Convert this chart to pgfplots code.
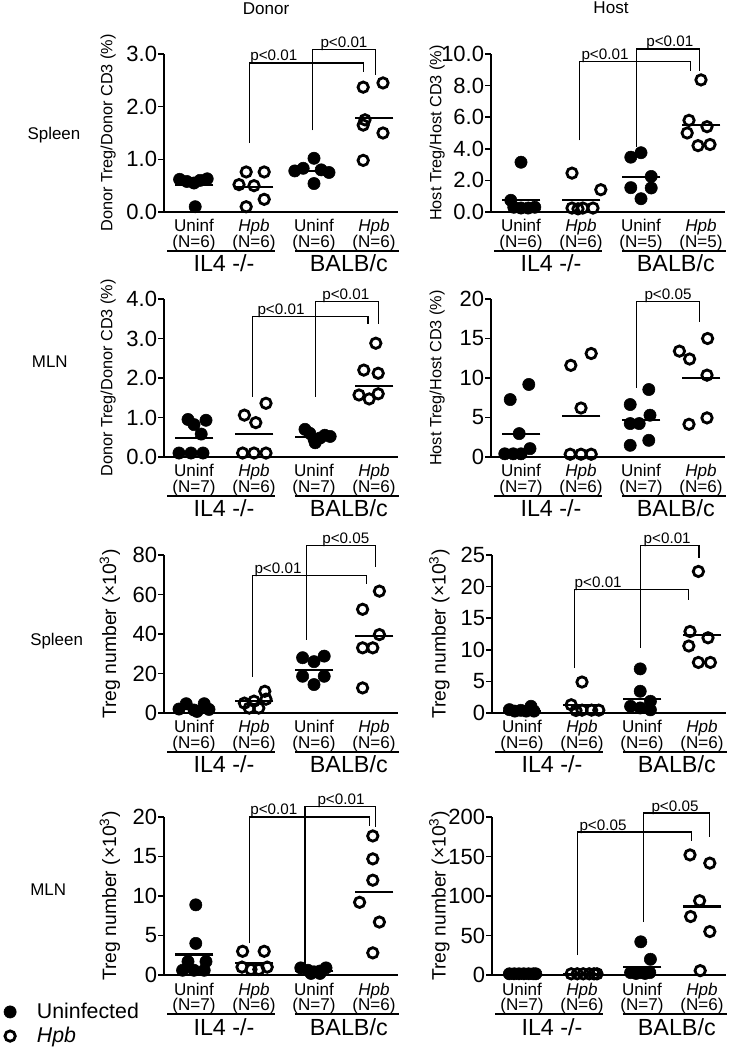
\documentclass[border=0pt]{standalone}
\usepackage{fontspec}
\setmainfont{Liberation Sans}
\usepackage{pgfplots}
\pgfplotsset{compat=1.18}

\newcommand\fsz[1]{\fontsize{#1}{#1}\selectfont}

\pgfplotsset{
 panel/.style={scale only axis, width=175.5pt, height=118.5pt, xmin=0.5, xmax=4.4, ymin=0,
   clip=false, axis x line=bottom, axis y line=left,
   axis line style={-, line width=1.3pt, black}, xtick=\empty,
   tick align=outside, major tick length=4.5pt, ytick style={line width=1.2pt, black},
   yticklabel style={font=\fsz{16.5}, inner sep=0.5pt},
   /pgf/number format/assume math mode=true,
   every axis y label/.style={rotate=90, anchor=center, inner sep=0pt},
   anchor=south west},
 dec/.style={yticklabel style={/pgf/number format/fixed, /pgf/number format/fixed zerofill, /pgf/number format/precision=1}},
 filled/.style={only marks, mark=*, mark size=4.6pt, mark options={fill=black, draw=black, line width=0.4pt}},
 open/.style={only marks, mark=o, mark size=3.9pt, mark options={draw=black, line width=2.1pt}},
 mean/.style={only marks, mark=-, mark size=14.5pt, mark options={line width=1.6pt}},
}
\tikzset{cat/.style={font=\fsz{12.8}, anchor=base, inner sep=0pt},
         grp/.style={font=\fsz{17.5}, anchor=base, inner sep=0pt}}

\newcommand\cats[4]{%
 \node[cat] at ([yshift=-15pt]axis cs:1,0) {Uninf};
 \node[cat] at ([yshift=-15pt]axis cs:2,0) {\textit{Hpb}};
 \node[cat] at ([yshift=-15pt]axis cs:3,0) {Uninf};
 \node[cat] at ([yshift=-15pt]axis cs:4,0) {\textit{Hpb}};
 \node[cat] at ([yshift=-27pt]axis cs:1,0) {(N=#1)};
 \node[cat] at ([yshift=-27pt]axis cs:2,0) {(N=#2)};
 \node[cat] at ([yshift=-27pt]axis cs:3,0) {(N=#3)};
 \node[cat] at ([yshift=-27pt]axis cs:4,0) {(N=#4)};
 \draw[line width=1.1pt] ([yshift=-29.2pt]axis cs:0.55,0) -- ([yshift=-29.2pt]axis cs:2.35,0);
 \draw[line width=1.1pt] ([yshift=-29.2pt]axis cs:2.68,0) -- ([yshift=-29.2pt]axis cs:4.42,0);
 \node[grp] at ([yshift=-45pt]axis cs:1.5,0) {IL4 -/-};
 \node[grp] at ([yshift=-45pt]axis cs:3.58,0) {BALB/c};
}

\newcommand\brk[7]{%
 \draw[line width=0.9pt] (axis cs:#1,#2) |- (axis cs:#4,#3) -- (axis cs:#4,#5);
 \node[font=\fsz{11.4}, anchor=base, inner sep=0pt] at ([yshift=1.5pt]axis cs:#7,#3) {#6};
}

\begin{document}
\begin{tikzpicture}
\useasboundingbox (0,0) rectangle (549pt,787.5pt);

% ---------- Panel 1: Donor, Spleen, %
\begin{axis}[panel, dec, at={(123pt,628.5pt)}, ymax=3, ytick={0,1,2,3},
  ylabel={Donor Treg/Donor CD3 (\%)}, ylabel style={font=\fsz{12.2}, at={(axis description cs:-0.239,0.5)}}]
\addplot[filled] coordinates {(0.76,0.62) (0.88,0.58) (1.0,0.55) (1.1,0.6) (1.22,0.63) (1.02,0.1)};
\addplot[open] coordinates {(1.87,0.76) (2.17,0.76) (1.75,0.52) (2.0,0.50) (1.87,0.1) (2.17,0.24)};
\addplot[filled] coordinates {(3.0,1.02) (2.82,0.83) (3.12,0.8) (2.68,0.78) (3.25,0.75) (3.0,0.54)};
\addplot[open] coordinates {(3.82,2.37) (4.15,2.45) (3.82,1.65) (3.85,1.75) (4.15,1.5) (3.82,0.98)};
\addplot[mean] coordinates {(1,0.52) (2,0.47) (3,0.775) (4,1.78)};
\brk{1.93}{1.31}{2.83}{3.83}{2.66}{p<0.01}{2.33}
\brk{2.98}{1.55}{3.09}{4.02}{2.6}{p<0.01}{3.5}
\cats{6}{6}{6}{6}
\end{axis}

% ---------- Panel 2: Host, Spleen, %
\begin{axis}[panel, dec, at={(368.25pt,628.5pt)}, ymax=10, ytick={0,2,4,6,8,10},
  ylabel={Host Treg/Host CD3 (\%)}, ylabel style={font=\fsz{12.2}, at={(axis description cs:-0.23,0.5)}}]
\addplot[filled] coordinates {(1.0,3.15) (0.83,0.74) (0.88,0.3) (1.0,0.25) (1.12,0.25) (1.23,0.3)};
\addplot[open] coordinates {(1.85,2.46) (2.33,1.41) (1.85,0.25) (2.03,0.25) (2.2,0.25) (1.95,0.2)};
\addplot[filled] coordinates {(2.83,3.47) (3.0,3.75) (3.17,2.25) (2.83,1.54) (3.17,1.52) (3.0,0.84)};
\addplot[open] coordinates {(4.0,8.36) (3.8,5.8) (4.1,5.4) (3.77,5.0) (3.95,4.2) (4.15,4.27)};
\addplot[mean] coordinates {(1,0.78) (2,0.78) (3,2.21) (4,5.52)};
\brk{1.98}{4.53}{9.52}{3.83}{8.95}{p<0.01}{2.4}
\brk{2.92}{4.1}{10.32}{3.97}{8.95}{p<0.01}{3.48}
\cats{6}{6}{5}{5}
\end{axis}

% ---------- Panel 3: Donor, MLN, %
\begin{axis}[panel, dec, at={(123pt,444.75pt)}, ymax=4, ytick={0,1,2,3,4},
  ylabel={Donor Treg/Donor CD3 (\%)}, ylabel style={font=\fsz{12.2}, at={(axis description cs:-0.239,0.5)}}]
\addplot[filled] coordinates {(0.9,0.95) (1.2,0.93) (1.0,0.82) (1.12,0.58) (0.75,0.1) (0.95,0.1) (1.15,0.1)};
\addplot[open] coordinates {(1.84,1.06) (2.03,0.87) (2.2,1.36) (1.81,0.1) (2.0,0.1) (2.2,0.1)};
\addplot[filled] coordinates {(2.85,0.7) (2.93,0.6) (3.0,0.45) (3.02,0.36) (3.1,0.48) (3.18,0.55) (3.27,0.52)};
\addplot[open] coordinates {(4.03,2.88) (3.83,2.2) (4.07,2.12) (3.75,1.57) (3.92,1.47) (4.07,1.6)};
\addplot[mean] coordinates {(1,0.49) (2,0.59) (3,0.51) (4,1.8)};
\brk{1.98}{1.53}{3.56}{3.9}{3.36}{p<0.01}{2.45}
\brk{3.03}{1.53}{3.94}{4.08}{3.36}{p<0.01}{3.53}
\cats{7}{6}{7}{6}
\end{axis}

% ---------- Panel 4: Host, MLN, %
\begin{axis}[panel, at={(368.25pt,444.75pt)}, ymax=20, ytick={0,5,10,15,20},
  ylabel={Host Treg/Host CD3 (\%)}, ylabel style={font=\fsz{12.2}, at={(axis description cs:-0.23,0.5)}}]
\addplot[filled] coordinates {(0.82,7.27) (1.13,9.18) (0.97,2.96) (1.15,1.06) (0.73,0.4) (0.87,0.4) (1.0,0.4)};
\addplot[open] coordinates {(1.83,11.6) (2.17,13.1) (2.0,6.2) (1.82,0.35) (2.0,0.35) (2.17,0.35)};
\addplot[filled] coordinates {(2.82,6.64) (3.13,8.54) (2.82,4.23) (2.97,4.23) (3.15,5.29) (2.82,1.48) (3.13,2.11)};
\addplot[open] coordinates {(3.64,13.4) (3.81,12.4) (4.11,15.0) (4.1,10.36) (4.1,4.95) (3.8,4.14)};
\addplot[mean] coordinates {(1,2.96) (2,5.2) (3,4.65) (4,10.0)};
\brk{2.92}{8.75}{19.7}{3.97}{17.1}{p<0.05}{3.45}
\cats{7}{6}{7}{6}
\end{axis}

% ---------- Panel 5: Donor, Spleen, number
\begin{axis}[panel, at={(123pt,252.75pt)}, ymax=80, ytick={0,20,40,60,80},
  ylabel={Treg number (×10\textsuperscript{3})}, ylabel style={font=\fsz{14.5}, at={(axis description cs:-0.231,0.5)}}]
\addplot[filled] coordinates {(0.87,4.7) (1.17,4.7) (0.75,2.0) (1.0,1.5) (1.05,0.8) (1.25,1.8)};
\addplot[open] coordinates {(1.84,5.0) (2.18,11) (2.2,7.0) (1.92,2.5) (2.08,2.5) (2.0,6.0)};
\addplot[filled] coordinates {(2.81,28) (3.17,28.8) (3.0,26) (2.81,18.6) (3.17,18.6) (3.0,14.4)};
\addplot[open] coordinates {(4.09,61.7) (3.81,52.5) (3.81,33) (3.98,33) (4.09,39.7) (3.81,12.7)};
\addplot[mean] coordinates {(1,2.2) (2,5.9) (3,21.7) (4,38.9)};
\brk{1.98}{18.3}{69.8}{3.88}{65.2}{p<0.01}{2.4}
\brk{2.87}{37}{85}{4.03}{73.9}{p<0.05}{3.53}
\cats{6}{6}{6}{6}
\end{axis}

% ---------- Panel 6: Host, Spleen, number
\begin{axis}[panel, at={(369pt,252.75pt)}, ymax=25, ytick={0,5,10,15,20,25},
  ylabel={Treg number (×10\textsuperscript{3})}, ylabel style={font=\fsz{14.5}, at={(axis description cs:-0.225,0.5)}}]
\addplot[filled] coordinates {(0.79,0.53) (0.98,0.42) (1.15,1.06) (0.88,0.3) (1.07,0.3) (1.2,0.3)};
\addplot[open] coordinates {(2.0,4.9) (1.82,1.3) (1.9,0.4) (2.0,0.45) (2.16,0.45) (2.28,0.45)};
\addplot[filled] coordinates {(2.97,6.98) (2.97,3.44) (3.14,1.85) (2.81,1.06) (2.97,0.8) (3.14,0.5)};
\addplot[open] coordinates {(3.94,22.4) (3.8,12.9) (4.1,11.9) (3.78,10.6) (3.94,8.0) (4.14,8.0)};
\addplot[mean] coordinates {(1,0.25) (2,1.2) (3,2.2) (4,12.3)};
\brk{1.87}{7.1}{19.5}{3.77}{17.9}{p<0.01}{2.27}
\brk{2.97}{10.3}{26.5}{3.95}{24.6}{p<0.01}{3.42}
\cats{6}{6}{6}{6}
\end{axis}

% ---------- Panel 7: Donor, MLN, number (with legend)
\begin{axis}[panel, at={(123pt,56.25pt)}, ymax=20, ytick={0,5,10,15,20},
  ylabel={Treg number (×10\textsuperscript{3})}, ylabel style={font=\fsz{14.5}, at={(axis description cs:-0.231,0.5)}},
  legend style={at={(axis description cs:-0.685,-0.16)}, anchor=north west, draw=none, fill=none,
    inner sep=0pt, font=\fsz{16}, column sep=13.5pt, row sep=1pt, cells={anchor=west}}]
\addplot[filled] coordinates {(1.03,8.88) (1.03,4.0) (0.9,1.7) (1.2,1.7) (0.81,0.6) (1.0,0.6) (1.17,0.6)};
\addlegendentry{Uninfected}
\addplot[open] coordinates {(1.81,3.0) (2.17,3.0) (1.8,1.0) (1.95,0.7) (2.08,0.7) (2.22,1.0)};
\addlegendentry{\textit{Hpb}}
\addplot[filled] coordinates {(2.78,0.9) (2.9,0.6) (3.0,0.4) (3.1,0.5) (3.2,0.9) (2.95,0.2) (3.1,0.2)};
\addplot[open] coordinates {(3.98,17.6) (3.98,14.7) (3.98,12.0) (3.76,9.2) (4.09,6.7) (3.98,2.8)};
\addplot[mean] coordinates {(1,2.6) (2,1.56) (3,0.5) (4,10.5)};
\brk{1.92}{4.0}{20}{3.92}{18.9}{p<0.01}{2.33}
\brk{2.85}{0.9}{21.3}{4.02}{18.7}{p<0.01}{3.45}
\cats{7}{6}{7}{6}
\end{axis}

% ---------- Panel 8: Host, MLN, number
\begin{axis}[panel, at={(369pt,56.25pt)}, ymax=200, ytick={0,50,100,150,200},
  ylabel={Treg number (×10\textsuperscript{3})}, ylabel style={font=\fsz{14.5}, at={(axis description cs:-0.225,0.5)}}]
\addplot[filled] coordinates {(0.79,1.5) (0.87,1.5) (0.95,1.5) (1.03,1.5) (1.11,1.5) (1.19,1.5) (1.23,1.5)};
\addplot[open] coordinates {(1.82,1.5) (1.92,1.5) (2.02,1.5) (2.12,1.5) (2.2,1.5) (2.25,1.5)};
\addplot[filled] coordinates {(2.98,42) (3.14,19.9) (2.81,3) (2.97,3) (3.13,3) (2.9,2) (3.05,2)};
\addplot[open] coordinates {(3.8,152) (4.13,141.6) (3.96,94) (3.81,74) (4.13,55) (3.97,5.5)};
\addplot[mean] coordinates {(1,1) (2,1) (3,9.7) (4,86.7)};
\brk{1.93}{25}{181}{3.82}{169}{p<0.05}{2.35}
\brk{3.02}{67}{205}{4.13}{175}{p<0.05}{3.55}
\cats{7}{6}{7}{6}
\end{axis}

% ---------- titles and row labels
\node[font=\fsz{12.8}] at (199.5pt,780.75pt) {Donor};
\node[font=\fsz{12.8}] at (458.25pt,781.5pt) {Host};
\node[font=\fsz{12.7}, anchor=west, inner sep=0pt] at (20.5pt,686.25pt) {Spleen};
\node[font=\fsz{12.7}, anchor=west, inner sep=0pt] at (23.75pt,516pt) {MLN};
\node[font=\fsz{12.7}, anchor=west, inner sep=0pt] at (22.5pt,306.75pt) {Spleen};
\node[font=\fsz{12.7}, anchor=west, inner sep=0pt] at (22.5pt,120pt) {MLN};
\end{tikzpicture}
\end{document}
